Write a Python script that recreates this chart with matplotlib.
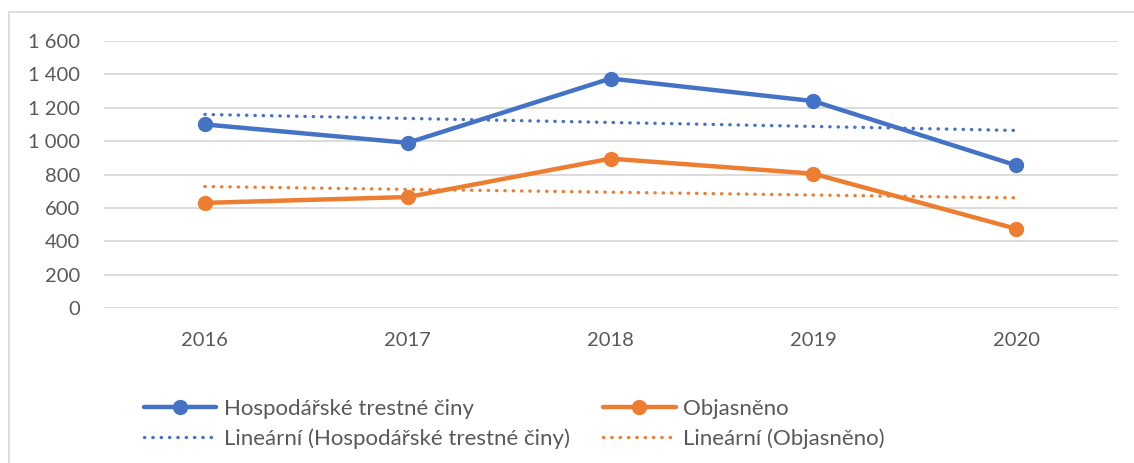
import matplotlib
matplotlib.use('Agg')
import matplotlib.pyplot as plt
from matplotlib.patches import Rectangle
from matplotlib.ticker import FuncFormatter

plt.rcParams['font.family'] = ['Lato', 'DejaVu Sans']

years = ['2016', '2017', '2018', '2019', '2020']
hospodarske = [1100, 990, 1375, 1240, 855]
objasneno = [630, 665, 895, 805, 475]
# linear trendlines (start / end values as drawn)
trend_hosp = [1160, 1064]
trend_obj = [728, 660]

BLUE = '#4472C4'
ORANGE = '#ED7D31'
GRID = '#D9D9D9'
TEXT = '#595959'

W, H = 1134, 463
fig = plt.figure(figsize=(W / 100, H / 100), dpi=100)
# outer chart frame (runs off the right/bottom edge)
fig.patches.append(Rectangle((9 / W, -0.1), 1.2, 1 - 12 / H + 0.1, transform=fig.transFigure,
                             fill=False, edgecolor=GRID, lw=1.2))

ax = fig.add_axes([103.5 / W, 1 - 308 / H, (1117.5 - 103.5) / W, (308 - 41) / H])
x = list(range(len(years)))

ax.plot(x, hospodarske, color=BLUE, lw=3.2, marker='o', ms=10, solid_capstyle='round',
        label='Hospodářské trestné činy', zorder=3)
ax.plot(x, objasneno, color=ORANGE, lw=3.2, marker='o', ms=10, solid_capstyle='round',
        label='Objasněno', zorder=3)
dot = (0, (0.1, 2.4))
ax.plot([x[0], x[-1]], trend_hosp, color=BLUE, lw=2.4, ls=dot, dash_capstyle='round',
        label='Lineární (Hospodářské trestné činy)', zorder=2)
ax.plot([x[0], x[-1]], trend_obj, color=ORANGE, lw=2.4, ls=dot, dash_capstyle='round',
        label='Lineární (Objasněno)', zorder=2)

ax.set_xlim(-0.5, len(years) - 0.5)
ax.set_ylim(0, 1600)
ax.set_yticks(range(0, 1601, 200))
ax.yaxis.set_major_formatter(FuncFormatter(lambda v, p: f'{int(v):,}'.replace(',', ' ')))
ax.set_xticks(x)
ax.set_xticklabels(years)
ax.grid(axis='y', color=GRID, lw=1.3)
ax.set_axisbelow(True)
for s in ax.spines.values():
    s.set_visible(False)
ax.tick_params(axis='both', length=0, labelsize=14.5, colors=TEXT)
ax.tick_params(axis='x', pad=17)
ax.tick_params(axis='y', pad=17)

handles, labels = ax.get_legend_handles_labels()
order = [0, 2, 1, 3]
fig.legend([handles[i] for i in order], [labels[i] for i in order], ncol=2,
           loc='upper left', bbox_to_anchor=(144 / W, 1 - 399 / H), frameon=False,
           fontsize=16, labelcolor=TEXT, handlelength=3.25, handletextpad=0.35,
           columnspacing=1.5, labelspacing=0.42, borderpad=0, borderaxespad=0)

fig.savefig('out.png', dpi=100, facecolor='white')
